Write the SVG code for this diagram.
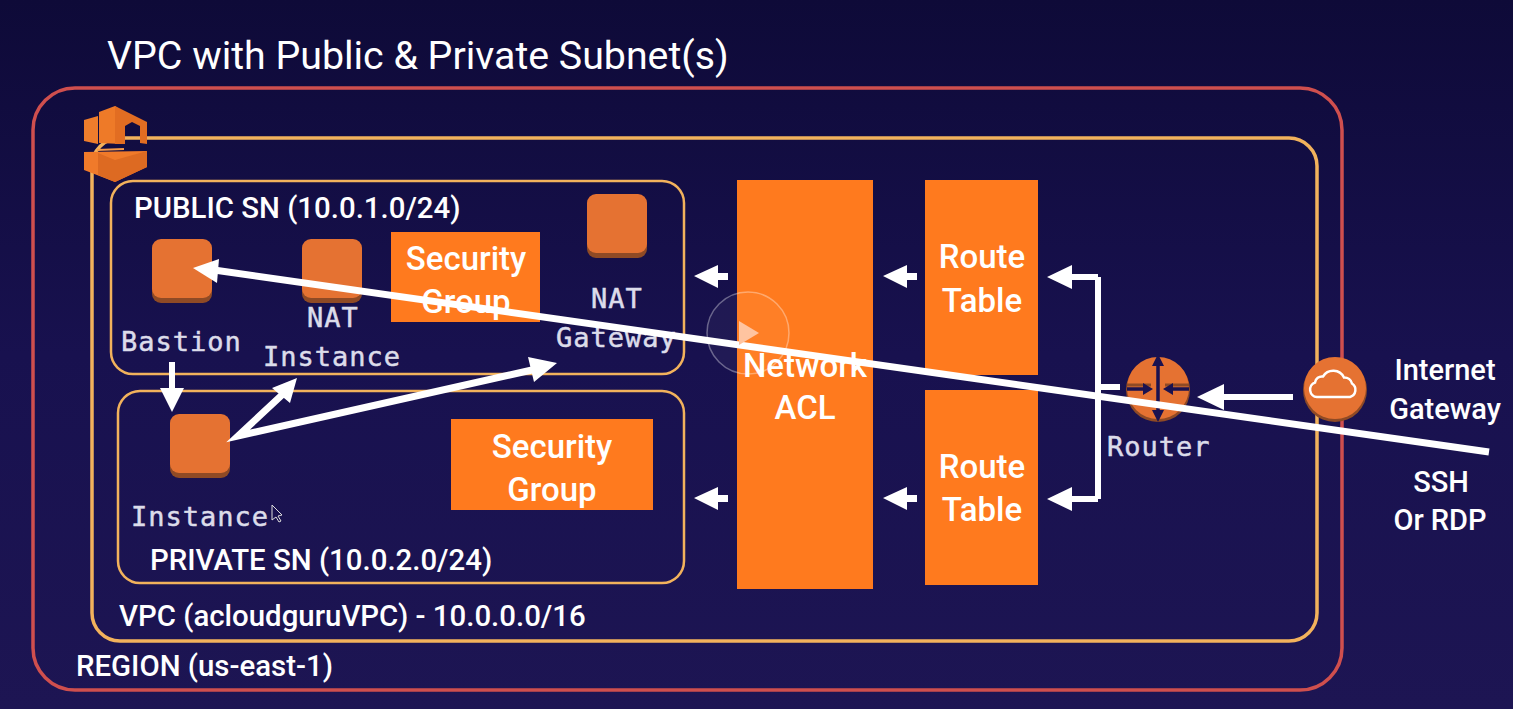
<svg xmlns="http://www.w3.org/2000/svg" width="1513" height="709" viewBox="0 0 1513 709">
<style>
.t{font-family:Roboto,"Liberation Sans",sans-serif;fill:#fff;font-weight:500}
.s{font-size:29.4px}
.b{font-size:33px;text-anchor:middle;font-weight:500}
.c{font-size:29px;text-anchor:middle}
.m{font-family:"DejaVu Sans Mono","Liberation Mono",monospace;font-size:27px;letter-spacing:1px;fill:#dcdcea;stroke:#dcdcea;stroke-width:.5px}
.g{fill:none;stroke:#f2b25c;stroke-width:2.5px}
.o{fill:#ff7a1e}
.i{fill:#e57232}
.is{fill:#8f4a25}
.w{fill:none;stroke:#fff;stroke-width:6px}
.wh{fill:#fff}
</style>
<defs>
<linearGradient id="bg" x1="0" y1="0" x2="0" y2="1"><stop offset="0" stop-color="#0e0a38"/><stop offset=".5" stop-color="#18114f"/><stop offset="1" stop-color="#1d1553"/></linearGradient>
</defs>
<rect width="1513" height="709" fill="url(#bg)"/>
<text class="t" x="107" y="69" font-size="39.3" style="font-weight:400">VPC with Public &amp; Private Subnet(s)</text>
<g id="region"><rect x="33" y="88" width="1309" height="602" rx="42" fill="none" stroke="#cf4f4e" stroke-width="3.5"/><text class="t s" x="76" y="676">REGION (us-east-1)</text></g>
<g id="vpc"><rect x="92" y="138" width="1225" height="503" rx="28" fill="none" stroke="#f2b25c" stroke-width="3.5"/><text class="t s" x="119" y="626">VPC (acloudguruVPC) - 10.0.0.0/16</text>
<g id="vpc-icon">
<path d="M84 120l14-4v28l-14-3z" fill="#ee7d2c"/>
<path d="M99 112l16-6 7 5v33l-23-1z" fill="#ee7a28"/>
<path d="M115 106l32 16v22l-7-1v-17l-8-4-7 4v18l-10 0z" fill="#e26d22"/>
<path d="M84 152l63-1v16l-32 15-31-12z" fill="#f07a2a"/>
<path d="M98 153l17 7 32-9v16l-32 15-17-7z" fill="#dd6a22"/>
<path d="M97 150l27-1" stroke="#f59a4a" stroke-width="2" fill="none"/>
</g></g>
<g id="public-sn"><rect x="111" y="181" width="573" height="193" rx="22" class="g"/><text class="t s" x="134" y="218">PUBLIC SN (10.0.1.0/24)</text></g>
<g id="private-sn"><rect x="118" y="391" width="566" height="192" rx="22" class="g"/><text class="t s" x="150" y="570">PRIVATE SN (10.0.2.0/24)</text></g>
<g id="bastion"><rect x="152" y="243" width="60" height="60" rx="9" class="is"/><rect x="152" y="239" width="60" height="59" rx="9" class="i"/><text class="m" x="121" y="351">Bastion</text></g>
<g id="nat-instance"><rect x="302" y="243" width="60" height="60" rx="9" class="is"/><rect x="302" y="239" width="60" height="59" rx="9" class="i"/><text class="m" x="307" y="327">NAT</text><text class="m" x="263" y="366">Instance</text></g>
<g id="nat-gateway"><rect x="587" y="198" width="60" height="60" rx="9" class="is"/><rect x="587" y="194" width="60" height="59" rx="9" class="i"/><text class="m" x="591" y="308">NAT</text><text class="m" x="556" y="347">Gateway</text></g>
<g id="instance"><rect x="170" y="418" width="60" height="60" rx="9" class="is"/><rect x="170" y="414" width="60" height="59" rx="9" class="i"/><text class="m" x="131" y="526">Instance</text></g>
<g id="sg-public"><rect x="391" y="232" width="149" height="90" class="o"/><text class="t b" x="466" y="270">Security</text><text class="t b" x="466" y="313">Group</text></g>
<g id="sg-private"><rect x="451" y="419" width="202" height="91" class="o"/><text class="t b" x="552" y="458">Security</text><text class="t b" x="552" y="501">Group</text></g>
<g id="network-acl"><rect x="737" y="180" width="136" height="409" class="o"/><text class="t b" x="805" y="377">Network</text><text class="t b" x="805" y="419">ACL</text></g>
<g id="route-table-1"><rect x="925" y="180" width="113" height="195" class="o"/><text class="t b" x="982" y="268">Route</text><text class="t b" x="982" y="312">Table</text></g>
<g id="route-table-2"><rect x="925" y="390" width="113" height="195" class="o"/><text class="t b" x="982" y="478">Route</text><text class="t b" x="982" y="521">Table</text></g>
<g id="router"><circle cx="1158" cy="390" r="32" fill="#8f4a25"/><circle cx="1158" cy="388" r="31" class="i"/>
<path d="M1127 385h24M1189 385h-24" fill="none" stroke="#8f4a25" stroke-width="3"/>
<path d="M1158 358v60M1127 389h20M1189 389h-20" fill="none" stroke="#1a1250" stroke-width="3.5"/><path d="M1158 354l-6 12h12zM1158 422l-6-12h12zM1153 389l-10-6v12zM1163 389l10-6v12z" fill="#1a1250"/>
<text class="m" x="1107" y="456">Router</text></g>
<g id="internet-gateway"><circle cx="1335" cy="390" r="32" fill="#8f4a25"/><circle cx="1335" cy="388" r="31" class="i"/>
<path d="M1317 397a7.500 7.500 0 0 1-2-14.500 7 7 0 0 1 8-6 12 12 0 0 1 21 1 8 8 0 0 1 8 6 7.500 7.500 0 0 1-2 13.500z" fill="none" stroke="#fff" stroke-width="2.500"/>
<text class="t c" x="1445" y="380">Internet</text><text class="t c" x="1445" y="419">Gateway</text></g>
<g id="ssh"><text class="t c" x="1441" y="492">SSH</text><text class="t c" x="1440" y="530">Or RDP</text></g>
<g id="connectors">
<path class="w" d="M1098 277v222M1072 277h26M1072 499h26M1120 387h-22"/>
<path class="wh" d="M1047 277l25-12v24zM1047 499l25-12v24zM883 276l24-11v8h10v7h-10v8zM883 498l24-11v8h10v7h-10v8zM694 276l24-11v8h10v7h-10v8zM694 498l24-11v8h10v7h-10v8z"/>
<path class="w" d="M1293 397h-70"/><path class="wh" d="M1197 397l27-13v26z"/>
<path class="w" d="M172 362v30"/><path class="wh" d="M172 412l-12-24h24z"/>
<path d="M1489 452L214 270" fill="none" stroke="#fff" stroke-width="7"/><path class="wh" d="M193 268l26-9-2 24z"/>
<path d="M283 394L238 436L532 370" fill="none" stroke="#fff" stroke-width="7" stroke-linejoin="miter"/>
<path class="wh" d="M297 378l-7 25-18-15zM557 363l-23 19-6-25z"/>
</g>
<g id="play-overlay"><circle cx="748" cy="333" r="41" fill="#fff" fill-opacity="0.04" stroke="#fff" stroke-opacity="0.35" stroke-width="1.5"/><path d="M739 321l20 12-20 12z" fill="#ffc4a0"/></g>
<path id="cursor" d="M272 505v15l4-3 3 5 2-1-3-5 4-1z" fill="#1a1250" stroke="#ddd" stroke-width="1"/>
</svg>
